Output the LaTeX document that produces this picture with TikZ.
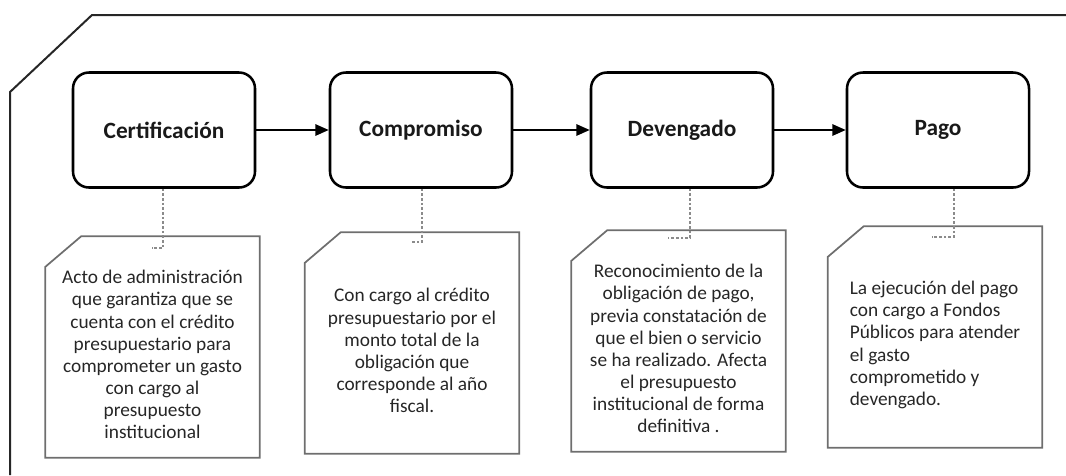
\documentclass[tikz,border=0pt]{standalone}
\usepackage{fontspec}
\setmainfont{Carlito}
\usetikzlibrary{arrows.meta}

\definecolor{inkgray}{HTML}{262626}
\definecolor{linegray}{HTML}{6E6E6E}

\tikzset{
  stage/.style={draw=black, line width=1.9pt, rounded corners=12pt,
    minimum width=136.5pt, minimum height=86.25pt,
    font=\fontsize{17.5}{20}\selectfont\bfseries, text=black!90},
  note/.style={inner sep=0pt, minimum width=160.5pt, minimum height=165.75pt,
    font=\fontsize{14.5}{16.6}\selectfont, text=inkgray},
  noteline/.style={draw=linegray, line width=1.3pt, line join=miter},
  flow/.style={line width=1.3pt, -{Triangle[length=10pt,width=8.5pt]}},
  link/.style={draw=linegray!80, line width=0.9pt, dash pattern=on 2pt off 1.5pt},
  frame/.style={draw=inkgray, line width=1.5pt}
}

\begin{document}
\begin{tikzpicture}[x=0.75pt,y=-0.75pt]
  \useasboundingbox (0,0) rectangle (1066,475);
  % outer frame
  \draw[frame] (1066,15) -- (92,15) -- (10,92) -- (10,475);
  % stages
  \node[stage] (cert) at (164,130) {Certificación};
  \node[stage] (comp) at (421,130) {Compromiso};
  \node[stage] (dev)  at (682,130) {Devengado};
  \node[stage] (pago) at (938,130) {Pago};
  % arrows
  \draw[flow] (cert) -- (comp);
  \draw[flow] (comp) -- (dev);
  \draw[flow] (dev) -- (pago);
  % notes
  \node[note] (certnote) at (152.5,347) {\raisebox{-11pt}[0pt][0pt]{\begin{tabular}{@{}c@{}}Acto de administración\\ que garantiza que se\\ cuenta con el crédito\\ presupuestario para\\ comprometer un gasto\\ con cargo al\\ presupuesto\\ institucional\end{tabular}}};
  \node[note] (compnote) at (412,343) {\raisebox{-11pt}[0pt][0pt]{\begin{tabular}{@{}c@{}}Con cargo al crédito\\ presupuestario por el\\ monto total de la\\ obligación que\\ corresponde al año\\ fiscal.\end{tabular}}};
  \node[note] (devnote) at (678.5,341) {\raisebox{-11pt}[0pt][0pt]{\begin{tabular}{@{}c@{}}Reconocimiento de la\\ obligación de pago,\\ previa constatación de\\ que el bien o servicio\\ se ha realizado. Afecta\\ el presupuesto\\ institucional de forma\\ definitiva .\end{tabular}}};
  \node[note] (pagonote) at (935,337) {\raisebox{-10pt}[0pt][0pt]{\begin{tabular}{@{}l@{}}La ejecución del pago\\ con cargo a Fondos\\ Públicos para atender\\ el gasto\\ comprometido y\\ devengado.\end{tabular}}};
  % note outlines, cut corner top left
  \foreach \n in {certnote,compnote,devnote,pagonote}
    \draw[noteline] ([xshift=27pt]\n.north west) -- (\n.north east)
      -- (\n.south east) -- (\n.south west)
      -- ([yshift=-23pt]\n.north west) -- cycle;
  % dashed links
  \coordinate (certend) at (152,248);
  \coordinate (compend) at (410,242);
  \coordinate (devend)  at (668,238);
  \coordinate (pagoend) at (932,237);
  \draw[link] ([xshift=-0.75pt]cert.south) |- (certend);
  \draw[link] ([xshift=0.75pt]comp.south) |- (compend);
  \draw[link] ([xshift=6pt]dev.south) |- (devend);
  \draw[link] ([xshift=12pt]pago.south) |- (pagoend);
\end{tikzpicture}
\end{document}
